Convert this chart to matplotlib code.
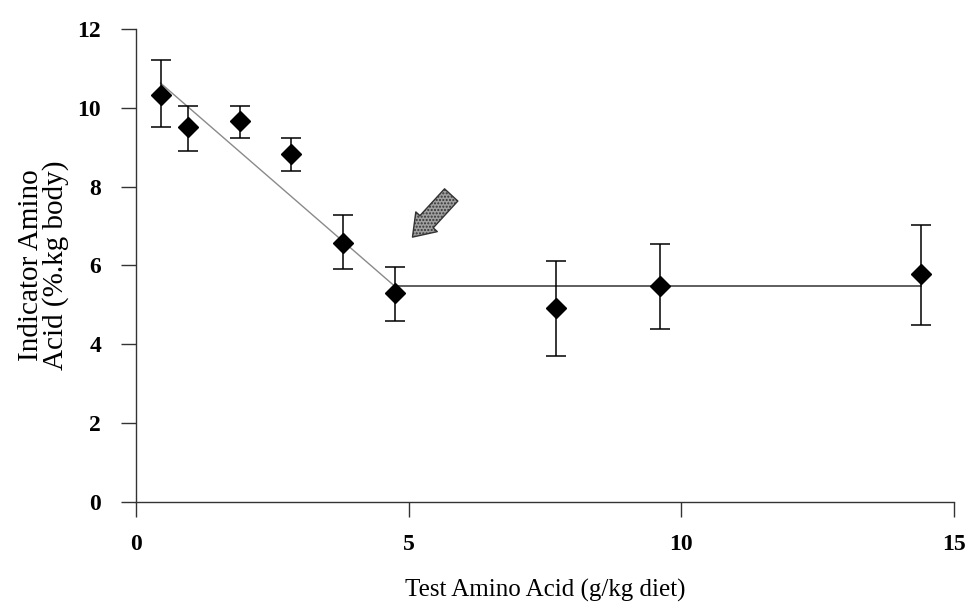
import matplotlib
matplotlib.use("Agg")
import matplotlib.pyplot as plt
import numpy as np

# ---- data ----
test_aa = [0.45, 0.95, 1.9, 2.85, 3.8, 4.75, 7.7, 9.6, 14.4]
indicator = [10.32, 9.51, 9.67, 8.83, 6.57, 5.30, 4.92, 5.48, 5.78]
err_low = [0.81, 0.61, 0.44, 0.43, 0.66, 0.71, 1.22, 1.09, 1.29]
err_high = [0.89, 0.54, 0.38, 0.40, 0.71, 0.66, 1.19, 1.06, 1.25]

# broken-line model
break_x = 4.74
plateau = 5.48
slope = -1.20
line_start = 0.45
line_end = 14.4

# arrow annotation (tip, tail) in data units
arrow_tip = (5.07, 6.72)
arrow_tail = (5.78, 7.79)

x_ticks = [0, 5, 10, 15]
y_ticks = [0, 2, 4, 6, 8, 10, 12]

plt.rcParams['font.family'] = ['Liberation Serif', 'DejaVu Serif']

fig = plt.figure(figsize=(9.74, 6.06), dpi=100)
ax = fig.add_axes([0.1396, 0.1716, 0.8399, 0.7806])

# regression lines
xs_slope = np.array([line_start, break_x])
ax.plot(xs_slope, plateau + slope * (xs_slope - break_x), color='#8a8a8a', lw=1.0, zorder=2)
ax.plot([break_x, line_end], [plateau, plateau], color='#333333', lw=1.1, zorder=2)

# data with error bars
ax.errorbar(test_aa, indicator, yerr=[err_low, err_high], fmt='D', color='black',
            ms=10, mfc='black', mec='black', ecolor='black', elinewidth=1.1,
            capsize=7, capthick=1.1, zorder=3)

# arrow
ax.annotate('', xy=arrow_tip, xytext=arrow_tail,
            arrowprops=dict(arrowstyle='simple,head_width=1.05,head_length=0.75,tail_width=0.65',
                            mutation_scale=20, facecolor='#a0a0a0', edgecolor='#333333',
                            lw=1.0, hatch='.....', shrinkA=0, shrinkB=0))

ax.set_xlim(0, 15)
ax.set_ylim(0, 12)
ax.set_xticks(x_ticks)
ax.set_yticks(y_ticks)
ax.set_xticklabels([str(v) for v in x_ticks], fontsize=17, fontweight='bold')
ax.set_yticklabels([str(v) for v in y_ticks], fontsize=17, fontweight='bold')

for s in ['top', 'right']:
    ax.spines[s].set_visible(False)
for s in ['left', 'bottom']:
    ax.spines[s].set_color('#333333')
    ax.spines[s].set_linewidth(1.0)

ax.tick_params(axis='x', direction='out', length=11, width=1.0, color='#333333', pad=12)
ax.tick_params(axis='y', direction='out', length=11, width=1.0, color='#333333', pad=14)

ax.set_xlabel('Test Amino Acid (g/kg diet)', fontsize=18, labelpad=17)
ax.set_ylabel('Indicator Amino\nAcid (%.kg body)', fontsize=21, labelpad=6, linespacing=0.9)

fig.savefig('out.png', dpi=100, facecolor='white')
